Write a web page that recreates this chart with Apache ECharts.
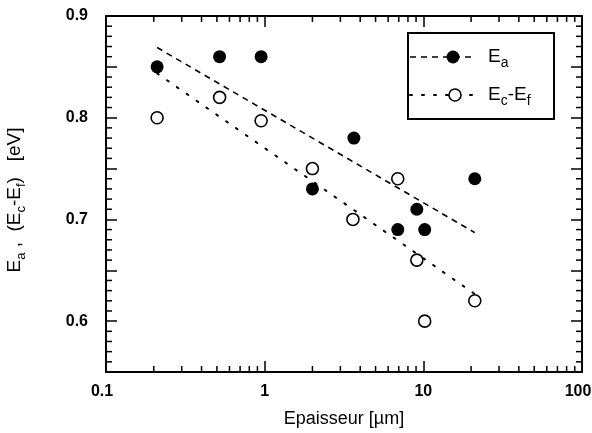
<!DOCTYPE html>
<html>
<head>
<meta charset="utf-8">
<script src="https://cdn.jsdelivr.net/npm/echarts@6/dist/echarts.min.js"></script>
<style>
html,body{margin:0;padding:0;background:#fff;}
#chart{width:592px;height:433px;}
</style>
</head>
<body>
<div id="chart"></div>
<script>
// ---- data ----
var thicknessEa = [0.21, 0.52, 0.95, 2.0, 3.65, 6.9, 9.1, 10.2, 21.1];
var valuesEa    = [0.85, 0.86, 0.86, 0.73, 0.78, 0.69, 0.71, 0.69, 0.74];
var thicknessEcEf = [0.21, 0.52, 0.95, 2.0, 3.6, 6.9, 9.1, 10.2, 21.1];
var valuesEcEf    = [0.80, 0.82, 0.797, 0.75, 0.70, 0.74, 0.66, 0.60, 0.62];
var fitX      = [0.21, 21.1];
var fitEa     = [0.869, 0.687];
var fitEcEf   = [0.8436, 0.6267];
var xTickLabels = ['0.1', '1', '10', '100'];
var yTickLabels = ['0.6', '0.7', '0.8', '0.9'];
var xMinorTicks = [0.2,0.3,0.4,0.5,0.6,0.7,0.8,0.9,2,3,4,5,6,7,8,9,20,30,40,50,60,70,80,90];
var yMinorTicks = [0.56,0.57,0.58,0.59,0.61,0.62,0.63,0.64,0.66,0.67,0.68,0.69,
                   0.71,0.72,0.73,0.74,0.76,0.77,0.78,0.79,0.81,0.82,0.83,0.84,0.86,0.87,0.88,0.89];

function zip(a, b) { return a.map(function (v, i) { return [v, b[i]]; }); }

var FONT = '"Liberation Sans", Arial, Helvetica, sans-serif';

var chart = echarts.init(document.getElementById('chart'), null, {renderer: 'canvas'});

var yFmt = function (v) {
  var s = (Math.round(v * 100) / 100).toFixed(1);
  return (Math.abs(v * 10 - Math.round(v * 10)) < 1e-6 && yTickLabels.indexOf(s) >= 0) ? s : '';
};
var xFmt = function (v) {
  var idx = Math.round(Math.log10(v)) + 1;
  var s = xTickLabels[idx];
  if (s === undefined) return '';
  if (idx === 0 || idx === xTickLabels.length - 1) return '{e|' + s + '}';
  return s;
};

var yAxisCommon = {
  type: 'value', min: 0.55, max: 0.9, interval: 0.05,
  axisLine: {show: true, lineStyle: {color: '#000', width: 2}},
  axisTick: {show: true, inside: true, length: 11, lineStyle: {color: '#000', width: 1.5}},
  splitLine: {show: false}
};

var tickStyle = {stroke: '#000', lineWidth: 1.5};

var option = {
  backgroundColor: '#fff',
  animation: false,
  grid: {left: 106, right: 10, top: 16, bottom: 61, outerBoundsMode: 'none', containLabel: false},
  xAxis: [
    {
      type: 'log', logBase: 10, min: 0.1, max: 100, position: 'bottom',
      axisLine: {show: true, onZero: false, lineStyle: {color: '#000', width: 2}},
      axisTick: {show: true, inside: true, length: 11, lineStyle: {color: '#000', width: 1.5}},
      axisLabel: {
        formatter: xFmt, color: '#000', fontSize: 16, fontWeight: 'bold', fontFamily: FONT, margin: 12,
        rich: {e: {fontSize: 16, fontWeight: 'bold', fontFamily: FONT, color: '#000', padding: [0, 8, 0, 0]}}
      },
      splitLine: {show: false},
      name: 'Epaisseur [\u00b5m]', nameLocation: 'middle', nameGap: 38,
      nameTextStyle: {color: '#000', fontSize: 18, fontFamily: FONT}
    },
    {
      type: 'log', logBase: 10, min: 0.1, max: 100, position: 'top',
      axisLine: {show: true, onZero: false, lineStyle: {color: '#000', width: 2}},
      axisTick: {show: true, inside: true, length: 11, lineStyle: {color: '#000', width: 1.5}},
      axisLabel: {show: false},
      splitLine: {show: false}
    }
  ],
  yAxis: [
    Object.assign({}, yAxisCommon, {
      position: 'left',
      axisLabel: {formatter: yFmt, color: '#000', fontSize: 16, fontWeight: 'bold', fontFamily: FONT, margin: 18},
      name: '{m|E}{s|a}{m| ,  (E}{s|c}{m|-E}{s|f}{m|)   [eV]}{p|}',
      nameLocation: 'middle', nameGap: 78, nameRotate: 90,
      nameTextStyle: {
        color: '#000', fontFamily: FONT,
        rich: {
          m: {fontSize: 19, fontFamily: FONT, color: '#000', lineHeight: 26, verticalAlign: 'middle'},
          s: {fontSize: 13, fontFamily: FONT, color: '#000', lineHeight: 26, verticalAlign: 'bottom'},
          p: {width: 12, lineHeight: 26}
        }
      }
    }),
    Object.assign({}, yAxisCommon, {
      position: 'right',
      axisLabel: {show: false}
    })
  ],
  series: [
    {
      name: 'fitEa', type: 'line', xAxisIndex: 0, yAxisIndex: 0,
      data: zip(fitX, fitEa), showSymbol: false, symbol: 'none',
      lineStyle: {color: '#000', width: 1.6, type: [6, 5]}, z: 2
    },
    {
      name: 'fitEcEf', type: 'line', xAxisIndex: 0, yAxisIndex: 0,
      data: zip(fitX, fitEcEf), showSymbol: false, symbol: 'none',
      lineStyle: {color: '#000', width: 2, type: [2, 10], cap: 'round'}, z: 2
    },
    {
      name: 'E_a', type: 'scatter', xAxisIndex: 0, yAxisIndex: 0,
      data: zip(thicknessEa, valuesEa), symbol: 'circle', symbolSize: 13,
      itemStyle: {color: '#000', opacity: 1}, z: 3
    },
    {
      name: 'E_c-E_f', type: 'scatter', xAxisIndex: 0, yAxisIndex: 0,
      data: zip(thicknessEcEf, valuesEcEf), symbol: 'circle', symbolSize: 12,
      itemStyle: {color: '#fff', borderColor: '#000', borderWidth: 1.6, opacity: 1}, z: 3
    },
    {
      name: 'minorX', type: 'custom', xAxisIndex: 0, yAxisIndex: 0, silent: true,
      data: xMinorTicks.map(function (v) { return [v]; }),
      clip: false,
      renderItem: function (params, api) {
        var b = api.coord([api.value(0), 0.55]);
        var t = api.coord([api.value(0), 0.9]);
        return {
          type: 'group',
          children: [
            {type: 'line', shape: {x1: b[0], y1: b[1], x2: b[0], y2: b[1] - 6}, style: tickStyle},
            {type: 'line', shape: {x1: t[0], y1: t[1], x2: t[0], y2: t[1] + 6}, style: tickStyle}
          ]
        };
      }
    },
    {
      name: 'minorY', type: 'custom', xAxisIndex: 0, yAxisIndex: 0, silent: true,
      data: yMinorTicks.map(function (v) { return [v]; }),
      clip: false,
      renderItem: function (params, api) {
        var l = api.coord([0.1, api.value(0)]);
        var r = api.coord([100, api.value(0)]);
        return {
          type: 'group',
          children: [
            {type: 'line', shape: {x1: l[0], y1: l[1], x2: l[0] + 6, y2: l[1]}, style: tickStyle},
            {type: 'line', shape: {x1: r[0], y1: r[1], x2: r[0] - 6, y2: r[1]}, style: tickStyle}
          ]
        };
      }
    }
  ],
  graphic: [
    {type: 'rect', shape: {x: 408, y: 33, width: 146, height: 86}, style: {fill: '#fff', stroke: '#000', lineWidth: 2}, z: 10},
    {type: 'line', shape: {x1: 410, y1: 57, x2: 472, y2: 57}, style: {stroke: '#000', lineWidth: 1.6, lineDash: [6, 5]}, z: 11},
    {type: 'circle', shape: {cx: 453, cy: 57, r: 6.5}, style: {fill: '#000'}, z: 12},
    {type: 'line', shape: {x1: 410, y1: 95, x2: 472, y2: 95}, style: {stroke: '#000', lineWidth: 2, lineDash: [2, 10], lineCap: 'round'}, z: 11},
    {type: 'circle', shape: {cx: 455, cy: 95, r: 6}, style: {fill: '#fff', stroke: '#000', lineWidth: 1.6}, z: 12},
    {type: 'text', x: 488, y: 57, z: 12, style: {
      text: '{m|E}{s|a}', verticalAlign: 'middle',
      rich: {m: {fontSize: 19, fontFamily: FONT, fill: '#000', lineHeight: 26, verticalAlign: 'middle'},
             s: {fontSize: 14, fontFamily: FONT, fill: '#000', lineHeight: 26, verticalAlign: 'bottom'}}
    }},
    {type: 'text', x: 488, y: 95, z: 12, style: {
      text: '{m|E}{s|c}{m|-E}{s|f}', verticalAlign: 'middle',
      rich: {m: {fontSize: 19, fontFamily: FONT, fill: '#000', lineHeight: 26, verticalAlign: 'middle'},
             s: {fontSize: 14, fontFamily: FONT, fill: '#000', lineHeight: 26, verticalAlign: 'bottom'}}
    }}
  ]
};
chart.setOption(option);
</script>
</body>
</html>
